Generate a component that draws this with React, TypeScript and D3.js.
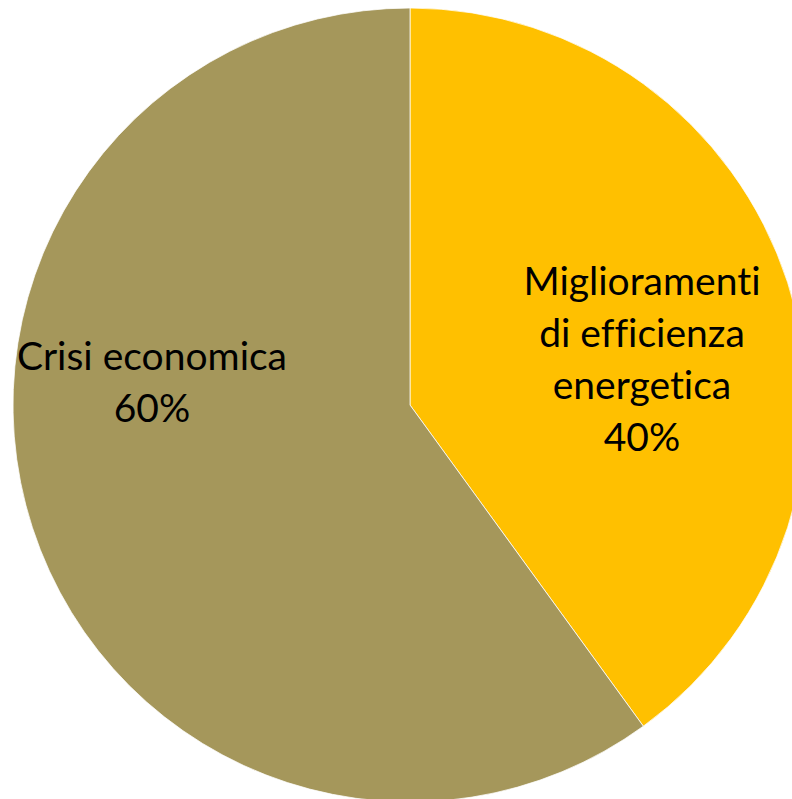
import * as d3 from 'd3';

const categories = ['Miglioramenti di efficienza energetica', 'Crisi economica'];
const shares = [40, 60];
const labelLines = [
  ['Miglioramenti', 'di efficienza', 'energetica', '40%'],
  ['Crisi economica', '60%'],
];

const colors = ['#FFC000', '#A5975B'];

const width = 792;
const height = 799;
const cx = 410;
const cy = 405;
const radius = 397;
// label anchors (relative to pie centre) and first-line baseline offset
const labelAnchors = [
  { dx: 232, dy: -110 },
  { dx: -258, dy: -35 },
];
const lineHeight = 52;

export default function App() {
  const pie = d3
    .pie<number>()
    .sort(null)
    .value((d) => d);
  const arcs = pie(shares);
  const arc = d3.arc<d3.PieArcDatum<number>>().innerRadius(0).outerRadius(radius);

  return (
    <svg
      width={width}
      height={height}
      style={{ position: 'absolute', left: 0, top: 0 }}
    >
      <rect width={width} height={height} fill="#fff" />
      <g transform={`translate(${cx},${cy})`}>
        {arcs.map((a, i) => (
          <path
            key={categories[i]}
            d={arc(a) || ''}
            fill={colors[i]}
            stroke="#fff"
            strokeWidth={0.75}
          />
        ))}
        {labelLines.map((lines, i) => (
          <text
            key={i}
            textAnchor="middle"
            fontFamily="Lato, 'Open Sans', sans-serif"
            fontSize={39}
            fill="#000"
            style={{ fontVariantLigatures: 'none' }}
          >
            {lines.map((l, j) => (
              <tspan
                key={j}
                x={labelAnchors[i].dx}
                y={labelAnchors[i].dy + j * lineHeight}
              >
                {l}
              </tspan>
            ))}
          </text>
        ))}
      </g>
    </svg>
  );
}
